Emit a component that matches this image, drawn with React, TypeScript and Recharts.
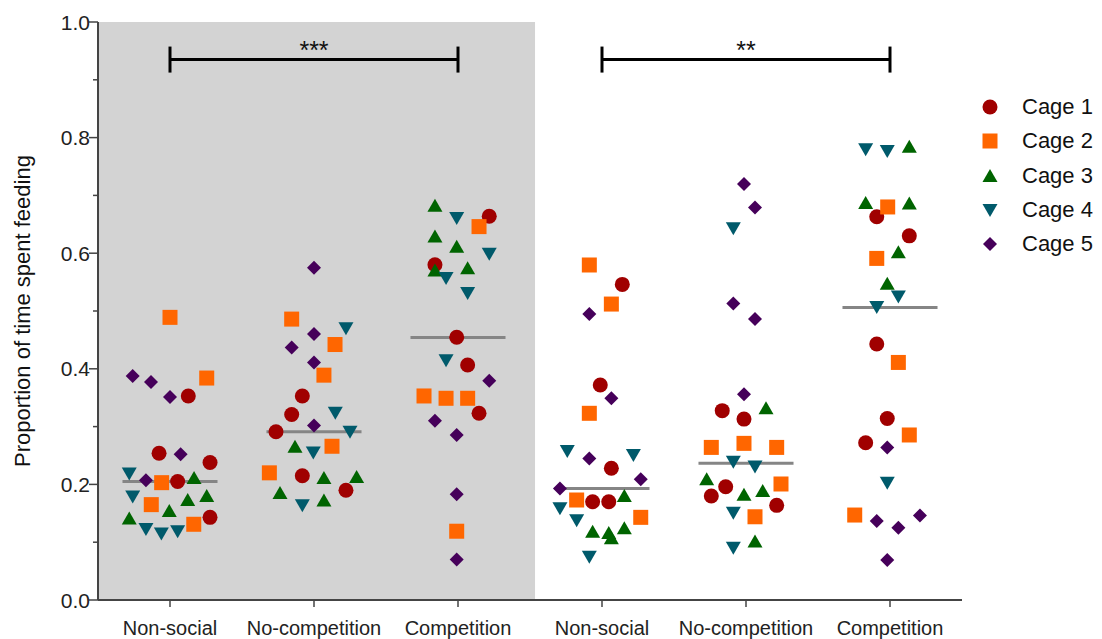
import React from 'react';
import { ScatterChart, Scatter, XAxis, YAxis, ReferenceArea, ReferenceLine, Legend } from 'recharts';

const groupLabels = ['Non-social', 'No-competition', 'Competition', 'Non-social', 'No-competition', 'Competition'];
const groupPositions = [1, 2, 3, 4, 5, 6];
const yTicks = [0, 0.1, 0.2, 0.3, 0.4, 0.5, 0.6, 0.7, 0.8, 0.9, 1.0];
const cageNames = ['Cage 1', 'Cage 2', 'Cage 3', 'Cage 4', 'Cage 5'];
const medians = [0.205, 0.291, 0.454, 0.193, 0.2365, 0.506];
const comparisons = [
  { from: 1, to: 3, label: '***' },
  { from: 4, to: 6, label: '**' },
];

// [group, jitter within group, proportion]
const cage1: [number, number, number][] = [
  [1, 0.127, 0.353], [1, -0.076, 0.254], [1, 0.278, 0.238], [1, 0.053, 0.205], [1, 0.278, 0.143],
  [2, -0.081, 0.353], [2, -0.155, 0.321], [2, -0.264, 0.291], [2, -0.081, 0.215], [2, 0.222, 0.19],
  [3, 0.217, 0.664], [3, -0.16, 0.58], [3, -0.009, 0.4545], [3, 0.067, 0.4066], [3, 0.146, 0.323],
  [4, 0.141, 0.546], [4, -0.012, 0.372], [4, 0.065, 0.228], [4, -0.065, 0.17], [4, 0.047, 0.17],
  [5, -0.165, 0.3276], [5, -0.014, 0.313], [5, -0.141, 0.196], [5, -0.241, 0.18], [5, 0.213, 0.1638],
  [6, -0.092, 0.663], [6, 0.134, 0.63], [6, -0.092, 0.443], [6, -0.019, 0.314], [6, -0.169, 0.272],
];
const cage2: [number, number, number][] = [
  [1, 0, 0.489], [1, 0.255, 0.384], [1, -0.058, 0.203], [1, -0.13, 0.165], [1, 0.165, 0.131],
  [2, -0.155, 0.486], [2, 0.146, 0.442], [2, 0.069, 0.389], [2, 0.125, 0.266], [2, -0.31, 0.22],
  [3, 0.146, 0.646], [3, -0.236, 0.353], [3, -0.083, 0.349], [3, 0.067, 0.349], [3, -0.009, 0.119],
  [4, -0.088, 0.5796], [4, 0.065, 0.512], [4, -0.088, 0.323], [4, -0.176, 0.173], [4, 0.269, 0.143],
  [5, -0.241, 0.264], [5, -0.014, 0.271], [5, 0.213, 0.264], [5, 0.243, 0.2007], [5, 0.0625, 0.144],
  [6, -0.016, 0.68], [6, -0.092, 0.591], [6, 0.058, 0.411], [6, 0.134, 0.2855], [6, -0.245, 0.147],
];
const cage3: [number, number, number][] = [
  [1, 0.167, 0.211], [1, -0.005, 0.154], [1, 0.123, 0.173], [1, 0.255, 0.18], [1, -0.283, 0.141],
  [2, -0.132, 0.265], [2, 0.069, 0.211], [2, 0.296, 0.213], [2, -0.236, 0.185], [2, 0.069, 0.172],
  [3, -0.16, 0.682], [3, -0.16, 0.629], [3, -0.009, 0.611], [3, -0.16, 0.57], [3, 0.067, 0.574],
  [4, 0.155, 0.18], [4, -0.065, 0.118], [4, 0.047, 0.116], [4, 0.065, 0.107], [4, 0.155, 0.124],
  [5, 0.139, 0.3316], [5, -0.273, 0.209], [5, -0.014, 0.182], [5, 0.116, 0.1886], [5, 0.0625, 0.101],
  [6, 0.134, 0.784], [6, -0.169, 0.687], [6, 0.134, 0.686], [6, 0.058, 0.6015], [6, -0.019, 0.547],
];
const cage4: [number, number, number][] = [
  [1, -0.283, 0.219], [1, -0.259, 0.179], [1, -0.167, 0.123], [1, -0.06, 0.115], [1, 0.053, 0.119],
  [2, 0.222, 0.47], [2, 0.148, 0.324], [2, 0.25, 0.291], [2, -0.005, 0.255], [2, -0.081, 0.164],
  [3, -0.009, 0.661], [3, 0.217, 0.599], [3, -0.083, 0.557], [3, 0.067, 0.531], [3, -0.083, 0.415],
  [4, -0.241, 0.258], [4, 0.218, 0.251], [4, -0.292, 0.1586], [4, -0.176, 0.138], [4, -0.088, 0.075],
  [5, -0.088, 0.643], [5, -0.088, 0.239], [5, 0.0625, 0.231], [5, -0.088, 0.151], [5, -0.088, 0.0905],
  [6, -0.169, 0.78], [6, -0.019, 0.777], [6, 0.058, 0.525], [6, -0.092, 0.507], [6, -0.019, 0.203],
];
const cage5: [number, number, number][] = [
  [1, -0.259, 0.3875], [1, -0.132, 0.377], [1, 0, 0.351], [1, 0.074, 0.252], [1, -0.167, 0.207],
  [2, 0, 0.575], [2, 0, 0.46], [2, -0.155, 0.437], [2, 0, 0.411], [2, 0, 0.302],
  [3, 0.217, 0.3795], [3, -0.16, 0.31], [3, -0.009, 0.2855], [3, -0.009, 0.183], [3, -0.009, 0.07],
  [4, -0.088, 0.495], [4, 0.065, 0.349], [4, -0.088, 0.245], [4, 0.269, 0.209], [4, -0.292, 0.193],
  [5, -0.014, 0.7197], [5, 0.0625, 0.679], [5, -0.088, 0.513], [5, 0.0625, 0.486], [5, -0.014, 0.356],
  [6, -0.019, 0.264], [6, -0.092, 0.1367], [6, 0.058, 0.125], [6, 0.208, 0.146], [6, -0.019, 0.069],
];

const FONT = "'Liberation Sans', Arial, sans-serif";
const colors = ['#a00000', '#ff6600', '#006400', '#005a6b', '#46005a'];
const shapeKinds = ['circle', 'square', 'triangle', 'down', 'diamond'];

const toPoints = (rows: [number, number, number][]) => rows.map(([g, dx, v]) => ({ x: g + dx, y: v }));
const cages = [cage1, cage2, cage3, cage4, cage5].map(toPoints);

function Marker({ kind, cx, cy, color }: { kind: string; cx: number; cy: number; color: string }) {
  if (kind === 'circle') return <circle cx={cx} cy={cy} r={7.5} fill={color} />;
  if (kind === 'square') return <rect x={cx - 7.5} y={cy - 7.5} width={15} height={15} fill={color} />;
  if (kind === 'triangle')
    return <polygon points={`${cx},${cy - 7} ${cx + 7.5},${cy + 6} ${cx - 7.5},${cy + 6}`} fill={color} />;
  if (kind === 'down')
    return <polygon points={`${cx},${cy + 7} ${cx + 7.5},${cy - 6} ${cx - 7.5},${cy - 6}`} fill={color} />;
  return <polygon points={`${cx},${cy - 7} ${cx + 7},${cy} ${cx},${cy + 7} ${cx - 7},${cy}`} fill={color} />;
}

const YTick = (props: any) => {
  const { x, y, payload } = props;
  const major = Math.round(payload.value * 10) % 2 === 0;
  return (
    <g>
      <line x1={x - (major ? 9 : 5)} x2={x} y1={y} y2={y} stroke="#444" strokeWidth={1.5} />
      {major && (
        <text x={x - 8} y={y} textAnchor="end" dominantBaseline="central" fontSize={21} fill="#222" fontFamily={FONT}>
          {payload.value.toFixed(1)}
        </text>
      )}
    </g>
  );
};

const XTick = (props: any) => {
  const { x, y, payload } = props;
  return (
    <g>
      <line x1={x} x2={x} y1={y} y2={y + 7} stroke="#444" strokeWidth={1.5} />
      <text x={x} y={y + 28} textAnchor="middle" dominantBaseline="central" fontSize={20} fill="#222" fontFamily={FONT}>
        {groupLabels[groupPositions.indexOf(payload.value)]}
      </text>
    </g>
  );
};

const LegendContent = () => (
  <div style={{ fontFamily: FONT }}>
    {cageNames.map((name, i) => (
      <div key={name} style={{ display: 'flex', alignItems: 'center', height: 34.3 }}>
        <svg width={20} height={20} style={{ marginLeft: 8 }}>
          <Marker kind={shapeKinds[i]} cx={10} cy={10} color={colors[i]} />
        </svg>
        <span style={{ marginLeft: 22, fontSize: 22, color: '#111' }}>{name}</span>
      </div>
    ))}
  </div>
);

const BRACKET_Y = 0.935;

export default function App() {
  return (
    <div style={{ position: 'absolute', left: 0, top: 0, background: '#fff' }}>
      <ScatterChart width={1102} height={639} margin={{ top: 22, right: 10, bottom: 0, left: 0 }} style={{ fontFamily: FONT }}>
        <ReferenceArea x1={0.5} x2={3.535} y1={0} y2={1} fill="#d3d3d3" fillOpacity={1} stroke="none" />
        <XAxis
          type="number"
          dataKey="x"
          domain={[0.5, 6.5]}
          ticks={groupPositions}
          height={39}
          axisLine={{ stroke: '#444', strokeWidth: 2 }}
          tickLine={false}
          tickSize={0}
          tickMargin={0}
          tick={<XTick />}
          interval={0}
          allowDataOverflow
        />
        <YAxis
          type="number"
          dataKey="y"
          domain={[0, 1]}
          ticks={yTicks}
          width={98}
          axisLine={{ stroke: '#444', strokeWidth: 2 }}
          tickLine={false}
          tickSize={0}
          tickMargin={0}
          tick={<YTick />}
          interval={0}
          label={{
            content: (p: any) => {
              const vb = p.viewBox;
              const cx = vb.x + 22;
              const cy = vb.y + vb.height / 2;
              return (
                <text x={cx} y={cy} transform={`rotate(-90 ${cx} ${cy})`} textAnchor="middle" dominantBaseline="central" fontSize={22} fill="#111" fontFamily={FONT}>
                  Proportion of time spent feeding
                </text>
              );
            },
          }}
        />
        {cages.map((pts, i) => (
          <Scatter
            key={cageNames[i]}
            name={cageNames[i]}
            data={pts}
            fill={colors[i]}
            isAnimationActive={false}
            shape={(p: any) => <Marker kind={shapeKinds[i]} cx={p.cx} cy={p.cy} color={colors[i]} />}
          />
        ))}
        {medians.map((m, i) => (
          <ReferenceLine
            key={'m' + i}
            segment={[{ x: groupPositions[i] - 0.33, y: m }, { x: groupPositions[i] + 0.33, y: m }]}
            stroke="#858585"
            strokeWidth={3}
          />
        ))}
        {comparisons.map((c) => (
          <React.Fragment key={c.label}>
            <ReferenceLine
              segment={[{ x: c.from, y: BRACKET_Y }, { x: c.to, y: BRACKET_Y }]}
              stroke="#000"
              strokeWidth={3}
              label={{ value: c.label, position: 'top', offset: 1, fontSize: 25, fill: '#111', fontFamily: FONT }}
            />
            <ReferenceLine segment={[{ x: c.from, y: BRACKET_Y + 0.0225 }, { x: c.from, y: BRACKET_Y - 0.0225 }]} stroke="#000" strokeWidth={3} />
            <ReferenceLine segment={[{ x: c.to, y: BRACKET_Y + 0.0225 }, { x: c.to, y: BRACKET_Y - 0.0225 }]} stroke="#000" strokeWidth={3} />
          </React.Fragment>
        ))}
        <Legend
          layout="vertical"
          align="right"
          verticalAlign="top"
          width={130}
          wrapperStyle={{ top: 90, right: 0, left: 'auto', width: 130 }}
          content={<LegendContent />}
        />
      </ScatterChart>
    </div>
  );
}
